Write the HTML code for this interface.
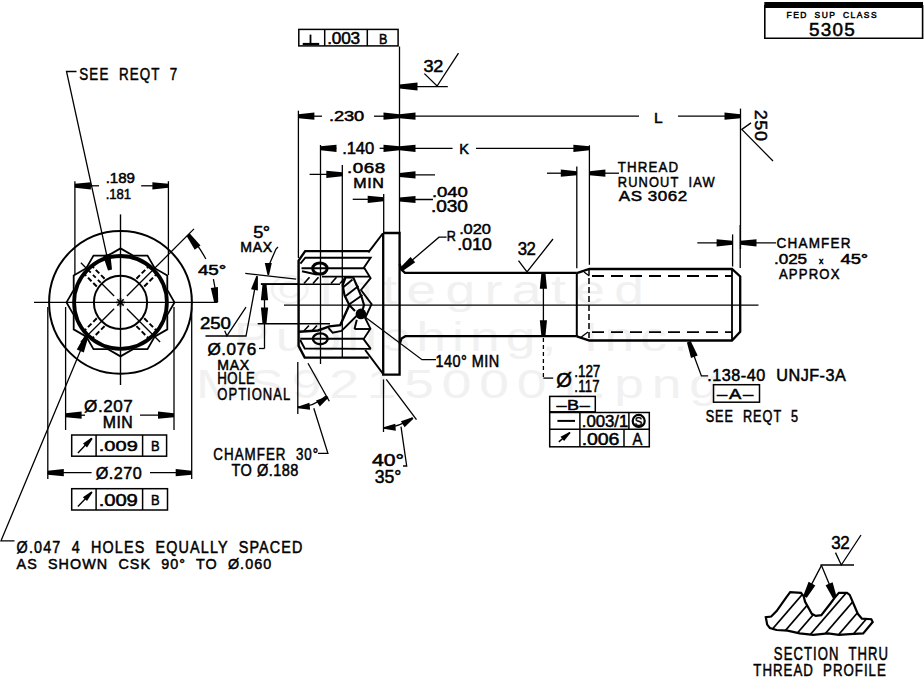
<!DOCTYPE html>
<html><head><meta charset="utf-8"><style>
html,body{margin:0;padding:0;background:#fff;width:924px;height:678px;overflow:hidden}
svg{display:block}
text{font-family:"Liberation Sans",sans-serif}
</style></head><body>
<svg width="924" height="678" viewBox="0 0 924 678">
<rect width="924" height="678" fill="#fff"/>
<g fill="#f1f1f1" stroke="none" font-family="Liberation Sans, sans-serif"><text transform="translate(270,303.8) scale(1.3,1)" x="0" y="0" font-size="41" textLength="287.7" lengthAdjust="spacing">©Integrated</text><text transform="translate(234,350.8) scale(1.3,1)" x="0" y="0" font-size="41" textLength="349.2" lengthAdjust="spacing">Publishing, Inc.</text><text transform="translate(196,398) scale(1.3,1)" x="0" y="0" font-size="41" textLength="402.3" lengthAdjust="spacing">MS92150001.png</text></g>
<g stroke="#000" stroke-width="0.5" fill="#000" font-family="Liberation Sans, sans-serif">
<text transform="translate(787.0,17.5) scale(0.900,1)" x="-0.5" y="0" font-size="9.4" word-spacing="3.3" textLength="100.0" lengthAdjust="spacing">FED SUP CLASS</text>
<text transform="translate(810.0,36.0) scale(1.000,1)" x="-0.9" y="0" font-size="18.9" textLength="45.6" lengthAdjust="spacing">5305</text>
<text transform="translate(106.5,182.5) scale(1.072,1)" x="-0.7" y="0" font-size="14.1" textLength="27.2" lengthAdjust="spacing">.189</text>
<text transform="translate(106.5,198.8) scale(0.868,1)" x="-0.8" y="0" font-size="15.1" textLength="29.1" lengthAdjust="spacing">.181</text>
<text transform="translate(80.0,79.9) scale(0.831,1)" x="-0.8" y="0" font-size="16.1" word-spacing="5.6" textLength="117.7" lengthAdjust="spacing">SEE REQT 7</text>
<text transform="translate(17.3,553.2) scale(0.876,1)" x="-0.8" y="0" font-size="16.4" word-spacing="5.7" textLength="326.3" lengthAdjust="spacing">Ø.047 4 HOLES EQUALLY SPACED</text>
<text transform="translate(17.3,568.8) scale(0.950,1)" x="-0.8" y="0" font-size="15.1" word-spacing="5.3" textLength="268.1" lengthAdjust="spacing">AS SHOWN CSK 90° TO Ø.060</text>
<text transform="translate(198.9,274.5) scale(1.300,1)" x="-0.7" y="0" font-size="14.5" textLength="21.7" lengthAdjust="spacing">45°</text>
<text transform="translate(85.0,411.8) scale(0.983,1)" x="-0.9" y="0" font-size="17.4" textLength="49.6" lengthAdjust="spacing">Ø.207</text>
<text transform="translate(103.5,427.7) scale(1.017,1)" x="-0.8" y="0" font-size="15.6" textLength="29.6" lengthAdjust="spacing">MIN</text>
<text transform="translate(99.8,450.9) scale(1.300,1)" x="-0.8" y="0" font-size="15.4" textLength="30.1" lengthAdjust="spacing">.009</text>
<text transform="translate(151.6,450.9) scale(0.900,1)" x="-0.7" y="0" font-size="14.4" textLength="9.8" lengthAdjust="spacing">B</text>
<text transform="translate(96.5,478.8) scale(0.987,1)" x="-0.8" y="0" font-size="16.4" textLength="46.7" lengthAdjust="spacing">Ø.270</text>
<text transform="translate(99.8,506.0) scale(1.236,1)" x="-0.8" y="0" font-size="16.4" textLength="31.6" lengthAdjust="spacing">.009</text>
<text transform="translate(151.6,505.3) scale(0.900,1)" x="-0.7" y="0" font-size="14.4" textLength="9.8" lengthAdjust="spacing">B</text>
<text transform="translate(436.3,366.7) scale(0.917,1)" x="-0.8" y="0" font-size="15.8" textLength="69.3" lengthAdjust="spacing">140° MIN</text>
<text transform="translate(447.5,241.0) scale(0.824,1)" x="-0.8" y="0" font-size="15.3" textLength="11.2" lengthAdjust="spacing">R</text>
<text transform="translate(460.0,234.4) scale(1.068,1)" x="-0.8" y="0" font-size="15.4" textLength="29.7" lengthAdjust="spacing">.020</text>
<text transform="translate(458.0,249.7) scale(1.077,1)" x="-0.8" y="0" font-size="16.7" textLength="32.2" lengthAdjust="spacing">.010</text>
<text transform="translate(518.5,255.4) scale(0.953,1)" x="-0.9" y="0" font-size="17.6" textLength="19.2" lengthAdjust="spacing">32</text>
<text transform="translate(557.4,386.5) scale(1.042,1)" x="-1.0" y="0" font-size="19.3" textLength="15.4" lengthAdjust="spacing">Ø</text>
<text transform="translate(575.0,377.4) scale(0.829,1)" x="-0.8" y="0" font-size="16.3" textLength="31.4" lengthAdjust="spacing">.127</text>
<text transform="translate(575.0,391.5) scale(0.799,1)" x="-0.8" y="0" font-size="16.4" textLength="31.6" lengthAdjust="spacing">.117</text>
<text transform="translate(557.4,410.4) scale(1.183,1)" x="-0.8" y="0" font-size="15.3" textLength="28.2" lengthAdjust="spacing">–B–</text>
<text transform="translate(582.7,427.2) scale(1.035,1)" x="-0.8" y="0" font-size="16.3" textLength="44.9" lengthAdjust="spacing">.003/1</text>
<text transform="translate(635.3,425.5) scale(0.866,1)" x="-0.7" y="0" font-size="13.1" textLength="8.9" lengthAdjust="spacing">S</text>
<text transform="translate(582.7,444.7) scale(1.198,1)" x="-0.8" y="0" font-size="16.3" textLength="31.4" lengthAdjust="spacing">.006</text>
<text transform="translate(633.1,444.7) scale(0.905,1)" x="-0.8" y="0" font-size="16.3" textLength="11.0" lengthAdjust="spacing">A</text>
<text transform="translate(708.2,380.8) scale(1.033,1)" x="-0.8" y="0" font-size="15.7" word-spacing="5.5" textLength="134.0" lengthAdjust="spacing">.138-40 UNJF-3A</text>
<text transform="translate(718.0,399.3) scale(1.300,1)" x="-0.7" y="0" font-size="14.2" textLength="27.8" lengthAdjust="spacing">–A–</text>
<text transform="translate(706.3,421.7) scale(0.814,1)" x="-0.8" y="0" font-size="15.6" word-spacing="5.4" textLength="113.4" lengthAdjust="spacing">SEE REQT 5</text>
<text transform="translate(328.0,44.4) scale(1.096,1)" x="-0.8" y="0" font-size="15.7" textLength="30.2" lengthAdjust="spacing">.003</text>
<text transform="translate(379.6,44.4) scale(0.886,1)" x="-0.7" y="0" font-size="14.2" textLength="9.7" lengthAdjust="spacing">B</text>
<text transform="translate(424.4,71.6) scale(1.069,1)" x="-0.8" y="0" font-size="16.9" textLength="18.4" lengthAdjust="spacing">32</text>
<text transform="translate(329.8,120.7) scale(1.261,1)" x="-0.7" y="0" font-size="14.5" textLength="28.0" lengthAdjust="spacing">.230</text>
<text transform="translate(654.8,122.9) scale(1.030,1)" x="-0.8" y="0" font-size="15.1" textLength="8.5" lengthAdjust="spacing">L</text>
<text transform="translate(755,110.5) rotate(90) scale(1.06,1)" x="-0.8" y="0" font-size="17" textLength="29.5" lengthAdjust="spacing">250</text>
<text transform="translate(343.0,153.8) scale(1.039,1)" x="-0.8" y="0" font-size="16.0" textLength="30.8" lengthAdjust="spacing">.140</text>
<text transform="translate(460.0,153.5) scale(1.002,1)" x="-0.7" y="0" font-size="14.5" textLength="9.9" lengthAdjust="spacing">K</text>
<text transform="translate(348.0,173.0) scale(1.300,1)" x="-0.7" y="0" font-size="14.5" textLength="29.3" lengthAdjust="spacing">.068</text>
<text transform="translate(354.0,187.6) scale(1.107,1)" x="-0.7" y="0" font-size="14.5" textLength="27.7" lengthAdjust="spacing">MIN</text>
<text transform="translate(433.0,197.0) scale(1.207,1)" x="-0.8" y="0" font-size="15.4" textLength="29.7" lengthAdjust="spacing">.040</text>
<text transform="translate(432.0,212.3) scale(1.207,1)" x="-0.8" y="0" font-size="15.8" textLength="30.5" lengthAdjust="spacing">.030</text>
<text transform="translate(618.4,172.2) scale(0.880,1)" x="-0.8" y="0" font-size="15.1" textLength="68.6" lengthAdjust="spacing">THREAD</text>
<text transform="translate(618.4,187.3) scale(0.852,1)" x="-0.8" y="0" font-size="15.1" word-spacing="5.3" textLength="113.7" lengthAdjust="spacing">RUNOUT IAW</text>
<text transform="translate(619.7,200.8) scale(1.126,1)" x="-0.8" y="0" font-size="15.1" textLength="60.7" lengthAdjust="spacing">AS 3062</text>
<text transform="translate(777.3,248.3) scale(0.878,1)" x="-0.8" y="0" font-size="15.4" textLength="84.2" lengthAdjust="spacing">CHAMFER</text>
<text transform="translate(775.0,264.2) scale(1.113,1)" x="-0.8" y="0" font-size="15.4" textLength="29.7" lengthAdjust="spacing">.025</text>
<text transform="translate(819.5,263.5) scale(1.000,1)" x="-0.4" y="0" font-size="8.7" textLength="7.0" lengthAdjust="spacing">x</text>
<text transform="translate(841.5,264.2) scale(1.201,1)" x="-0.8" y="0" font-size="15.4" textLength="23.0" lengthAdjust="spacing">45°</text>
<text transform="translate(779.6,278.6) scale(0.869,1)" x="-0.8" y="0" font-size="15.1" textLength="69.6" lengthAdjust="spacing">APPROX</text>
<text transform="translate(254.0,238.0) scale(1.093,1)" x="-0.8" y="0" font-size="16.7" textLength="15.6" lengthAdjust="spacing">5°</text>
<text transform="translate(241.0,252.3) scale(0.981,1)" x="-0.7" y="0" font-size="14.4" textLength="32.5" lengthAdjust="spacing">MAX</text>
<text transform="translate(201.0,328.6) scale(1.155,1)" x="-0.8" y="0" font-size="16.1" textLength="26.6" lengthAdjust="spacing">250</text>
<text transform="translate(208.3,354.9) scale(1.043,1)" x="-0.8" y="0" font-size="16.4" textLength="46.7" lengthAdjust="spacing">Ø.076</text>
<text transform="translate(218.0,370.3) scale(0.991,1)" x="-0.7" y="0" font-size="14.2" textLength="32.1" lengthAdjust="spacing">MAX</text>
<text transform="translate(218.0,384.4) scale(0.848,1)" x="-0.8" y="0" font-size="15.6" textLength="44.2" lengthAdjust="spacing">HOLE</text>
<text transform="translate(218.0,400.0) scale(0.786,1)" x="-0.8" y="0" font-size="16.6" textLength="92.6" lengthAdjust="spacing">OPTIONAL</text>
<text transform="translate(214.0,460.4) scale(0.806,1)" x="-0.8" y="0" font-size="16.6" word-spacing="5.8" textLength="130.0" lengthAdjust="spacing">CHAMFER 30°</text>
<text transform="translate(232.2,475.9) scale(0.887,1)" x="-0.8" y="0" font-size="16.4" textLength="75.5" lengthAdjust="spacing">TO Ø.188</text>
<text transform="translate(373.0,466.0) scale(1.300,1)" x="-0.8" y="0" font-size="16.3" textLength="24.7" lengthAdjust="spacing">40°</text>
<text transform="translate(375.7,483.0) scale(0.949,1)" x="-0.9" y="0" font-size="18.6" textLength="27.8" lengthAdjust="spacing">35°</text>
<text transform="translate(832.0,549.0) scale(0.918,1)" x="-0.9" y="0" font-size="18.5" textLength="20.2" lengthAdjust="spacing">32</text>
<text transform="translate(774.5,659.8) scale(0.741,1)" x="-0.9" y="0" font-size="17.7" word-spacing="6.2" textLength="154.2" lengthAdjust="spacing">SECTION THRU</text>
<text transform="translate(754.0,676.0) scale(0.786,1)" x="-0.8" y="0" font-size="16.9" word-spacing="5.9" textLength="168.5" lengthAdjust="spacing">THREAD PROFILE</text>
</g>
<g stroke="#000" fill="none" stroke-linecap="butt">
<rect x="764.3" y="2" width="158.7" height="6" fill="#000" stroke="none"/>
<polyline points="764.8,5.0 764.8,38.2 922.6,38.2 922.6,5.0" stroke-width="1.6" fill="none"/>
<circle cx="120.5" cy="302.4" r="71.4" stroke-width="2.0" fill="none"/>
<circle cx="120.5" cy="302.4" r="46.4" stroke-width="3.8" fill="none"/>
<circle cx="120.5" cy="302.4" r="26.6" stroke-width="2.0" fill="none"/>
<polygon points="120.5,248.4 133.0,255.6 147.5,255.6 154.7,268.2 167.3,275.4 167.3,289.9 174.5,302.4 167.3,314.9 167.3,329.4 154.7,336.6 147.5,349.2 133.0,349.2 120.5,356.4 108.0,349.2 93.5,349.2 86.3,336.6 73.7,329.4 73.7,314.9 66.5,302.4 73.7,289.9 73.7,275.4 86.3,268.2 93.5,255.6 108.0,255.6" stroke-width="1.8" fill="none"/>
<line x1="120.5" y1="214.4" x2="120.5" y2="385.0" stroke-width="1.4"/>
<line x1="34.0" y1="302.4" x2="217.5" y2="302.4" stroke-width="1.4"/>
<line x1="116.0" y1="302.4" x2="125.0" y2="302.4" stroke-width="1.6"/>
<line x1="117.3" y1="299.2" x2="123.7" y2="305.6" stroke-width="1.6"/>
<line x1="120.5" y1="297.9" x2="120.5" y2="306.9" stroke-width="1.6"/>
<line x1="123.7" y1="299.2" x2="117.3" y2="305.6" stroke-width="1.6"/>
<line x1="126.9" y1="296.0" x2="194.0" y2="228.9" stroke-width="1.3"/>
<line x1="136.4" y1="278.7" x2="149.1" y2="266.0" stroke-width="2.0" stroke-dasharray="5,2.5"/>
<line x1="144.2" y1="286.5" x2="156.9" y2="273.8" stroke-width="2.0" stroke-dasharray="5,2.5"/>
<line x1="114.1" y1="296.0" x2="102.1" y2="284.0" stroke-width="1.3"/>
<line x1="100.7" y1="282.6" x2="88.0" y2="269.9" stroke-width="1.8" stroke-dasharray="4,3"/>
<line x1="87.3" y1="269.2" x2="80.9" y2="262.8" stroke-width="1.3"/>
<line x1="96.8" y1="286.5" x2="84.1" y2="273.8" stroke-width="2.0" stroke-dasharray="5,2.5"/>
<line x1="104.6" y1="278.7" x2="91.9" y2="266.0" stroke-width="2.0" stroke-dasharray="5,2.5"/>
<line x1="114.1" y1="308.8" x2="80.9" y2="342.0" stroke-width="1.3"/>
<line x1="104.6" y1="326.1" x2="91.9" y2="338.8" stroke-width="2.0" stroke-dasharray="5,2.5"/>
<line x1="96.8" y1="318.3" x2="84.1" y2="331.0" stroke-width="2.0" stroke-dasharray="5,2.5"/>
<line x1="126.9" y1="308.8" x2="160.1" y2="342.0" stroke-width="1.3"/>
<line x1="144.2" y1="318.3" x2="156.9" y2="331.0" stroke-width="2.0" stroke-dasharray="5,2.5"/>
<line x1="136.4" y1="326.1" x2="149.1" y2="338.8" stroke-width="2.0" stroke-dasharray="5,2.5"/>
<line x1="74.9" y1="181.2" x2="74.9" y2="275.0" stroke-width="1.3"/>
<line x1="168.4" y1="181.2" x2="168.4" y2="275.0" stroke-width="1.3"/>
<line x1="74.9" y1="185.8" x2="99.0" y2="185.8" stroke-width="1.3"/>
<line x1="141.2" y1="185.8" x2="168.4" y2="185.8" stroke-width="1.3"/>
<polygon points="74.9,183.8 74.9,187.8 90.9,189.4 90.9,182.2" fill="#000" stroke="none"/>
<polygon points="168.4,187.8 168.4,183.8 152.4,182.2 152.4,189.4" fill="#000" stroke="none"/>
<polyline points="76.5,71.5 66.5,71.5 110.0,270.0" stroke-width="1.3" fill="none"/>
<polygon points="108.0,270.4 112.0,269.6 110.3,253.6 102.9,255.2" fill="#000" stroke="none"/>
<polyline points="86.5,336.2 1.0,540.8 14.5,540.8" stroke-width="1.3" fill="none"/>
<polygon points="88.3,337.0 84.7,335.4 76.8,349.5 83.8,352.4" fill="#000" stroke="none"/>
<path d="M188.2,234.7 A95.7,95.7 0 0 1 205.8,259.0" fill="none" stroke-width="1.3"/>
<polygon points="189.8,233.6 186.6,235.9 194.7,249.8 200.5,245.6" fill="#000" stroke="none"/>
<path d="M213.4,279.2 A95.7,95.7 0 0 1 216.2,302.4" fill="none" stroke-width="1.3"/>
<polygon points="214.2,302.6 218.2,302.2 217.9,287.1 210.8,288.0" fill="#000" stroke="none"/>
<line x1="65.6" y1="307.0" x2="65.6" y2="430.0" stroke-width="1.3"/>
<line x1="174.0" y1="307.0" x2="174.0" y2="430.0" stroke-width="1.3"/>
<line x1="65.6" y1="415.2" x2="85.0" y2="415.2" stroke-width="1.3"/>
<line x1="140.0" y1="415.2" x2="174.0" y2="415.2" stroke-width="1.3"/>
<polygon points="65.6,413.2 65.6,417.2 81.6,418.8 81.6,411.6" fill="#000" stroke="none"/>
<polygon points="174.0,417.2 174.0,413.2 158.0,411.6 158.0,418.8" fill="#000" stroke="none"/>
<rect x="71.7" y="435.0" width="94.9" height="21.2" fill="none" stroke-width="1.5"/>
<line x1="96.1" y1="435.0" x2="96.1" y2="456.2" stroke-width="1.5"/>
<line x1="142.6" y1="435.0" x2="142.6" y2="456.2" stroke-width="1.5"/>
<line x1="77.9" y1="452.9" x2="91.9" y2="438.3" stroke-width="1.4"/>
<polygon points="92.5,438.9 91.3,437.7 83.0,443.6 87.0,447.5" fill="#000" stroke="none"/>
<line x1="47.8" y1="307.0" x2="47.8" y2="479.0" stroke-width="1.3"/>
<line x1="191.7" y1="307.0" x2="191.7" y2="479.0" stroke-width="1.3"/>
<line x1="47.8" y1="472.7" x2="91.6" y2="472.7" stroke-width="1.3"/>
<line x1="150.0" y1="472.7" x2="191.7" y2="472.7" stroke-width="1.3"/>
<polygon points="47.8,470.7 47.8,474.7 63.8,476.3 63.8,469.1" fill="#000" stroke="none"/>
<polygon points="191.7,474.7 191.7,470.7 175.7,469.1 175.7,476.3" fill="#000" stroke="none"/>
<rect x="71.7" y="488.7" width="95.8" height="21.3" fill="none" stroke-width="1.5"/>
<line x1="96.1" y1="488.7" x2="96.1" y2="510.0" stroke-width="1.5"/>
<line x1="142.6" y1="488.7" x2="142.6" y2="510.0" stroke-width="1.5"/>
<line x1="77.9" y1="506.5" x2="91.9" y2="492.0" stroke-width="1.4"/>
<polygon points="92.5,492.6 91.3,491.4 82.9,497.2 87.0,501.1" fill="#000" stroke="none"/>
<polyline points="383.2,233.0 399.6,233.0 399.6,374.7 383.2,374.7 383.2,233.0" stroke-width="2.3" fill="none"/>
<line x1="382.8" y1="233.5" x2="368.4" y2="252.4" stroke-width="2.0"/>
<line x1="383.2" y1="374.0" x2="365.2" y2="350.0" stroke-width="2.0"/>
<polyline points="369.3,251.1 305.2,251.1 298.6,260.6 298.6,345.9 304.7,357.6 368.8,357.6" stroke-width="2.4" fill="none"/>
<polyline points="300.4,263.7 305.3,257.7 370.6,257.7 364.0,267.5 370.6,278.1 361.0,290.0 371.6,304.2 365.1,318.0 370.4,328.7 363.6,339.1 370.8,348.9" stroke-width="1.9" fill="none"/>
<line x1="301.5" y1="268.3" x2="364.0" y2="268.3" stroke-width="1.9"/>
<line x1="322.0" y1="276.6" x2="369.5" y2="276.6" stroke-width="1.9"/>
<polyline points="302.0,271.2 316.6,274.5" stroke-width="1.9" fill="none"/>
<line x1="261.0" y1="284.2" x2="340.0" y2="284.2" stroke-width="1.6"/>
<line x1="304.0" y1="283.5" x2="309.5" y2="277.2" stroke-width="1.7"/>
<line x1="313.0" y1="283.5" x2="318.5" y2="277.2" stroke-width="1.7"/>
<line x1="331.0" y1="283.5" x2="336.5" y2="277.2" stroke-width="1.7"/>
<line x1="340.0" y1="283.5" x2="345.5" y2="277.2" stroke-width="1.7"/>
<polyline points="300.2,340.0 304.7,348.5 370.8,348.9" stroke-width="1.9" fill="none"/>
<line x1="300.2" y1="338.8" x2="363.6" y2="338.8" stroke-width="1.9"/>
<line x1="257.7" y1="323.8" x2="330.0" y2="323.8" stroke-width="1.6"/>
<polyline points="299.0,331.8 318.0,330.5 329.4,326.4 340.3,325.1 344.5,315.7 349.8,304.0" stroke-width="2.4" fill="none"/>
<polyline points="328.5,328.0 332.7,332.8 341.5,331.0 358.0,314.5" stroke-width="1.9" fill="none"/>
<line x1="356.8" y1="319.8" x2="354.5" y2="329.0" stroke-width="1.9"/>
<line x1="354.5" y1="329.0" x2="369.8" y2="329.0" stroke-width="1.9"/>
<line x1="304.0" y1="330.8" x2="309.0" y2="325.5" stroke-width="1.6"/>
<line x1="312.0" y1="330.8" x2="317.0" y2="325.5" stroke-width="1.6"/>
<polyline points="353.2,277.4 345.6,277.4 342.7,285.1 344.6,295.6 349.4,305.2 355.0,311.0" stroke-width="2.2" fill="none"/>
<polyline points="353.2,277.4 357.0,286.0 361.8,297.5 364.0,305.0 362.0,312.0" stroke-width="2.2" fill="none"/>
<line x1="343.5" y1="287.0" x2="352.5" y2="279.5" stroke-width="1.9"/>
<line x1="345.0" y1="296.5" x2="358.5" y2="286.0" stroke-width="1.9"/>
<line x1="349.0" y1="304.5" x2="362.5" y2="295.0" stroke-width="1.9"/>
<circle cx="360.9" cy="313.9" r="5.3" fill="#000" stroke="none"/>
<ellipse cx="319.9" cy="268.5" rx="7.2" ry="5.6" stroke-width="3.0" fill="none"/>
<ellipse cx="320.3" cy="338.8" rx="7.4" ry="5.4" stroke-width="2.4" fill="none"/>
<polyline points="399.6,264.0 401.5,269.5 405.0,272.8 576.8,272.8" stroke-width="2.3" fill="none"/>
<polyline points="399.6,344.0 401.5,338.5 405.4,336.2 576.8,336.2" stroke-width="2.3" fill="none"/>
<line x1="576.8" y1="273.2" x2="576.8" y2="336.3" stroke-width="2.0"/>
<polyline points="576.8,273.2 589.4,269.0 732.0,269.0 740.2,276.4 740.2,331.7 732.0,340.5 589.4,340.5 576.8,336.3" stroke-width="2.3" fill="none"/>
<line x1="732.0" y1="269.0" x2="732.0" y2="340.5" stroke-width="1.8"/>
<line x1="592.0" y1="276.0" x2="732.0" y2="276.0" stroke-width="1.9" stroke-dasharray="12,7"/>
<line x1="592.0" y1="332.1" x2="732.0" y2="332.1" stroke-width="1.9" stroke-dasharray="12,7"/>
<line x1="589.0" y1="269.0" x2="589.0" y2="340.5" stroke-width="1.5" stroke-dasharray="6,3"/>
<line x1="584.0" y1="272.0" x2="589.4" y2="276.0" stroke-width="1.3"/>
<line x1="580.0" y1="338.0" x2="588.0" y2="332.0" stroke-width="1.3"/>
<line x1="284.0" y1="305.2" x2="758.5" y2="305.2" stroke-width="1.3"/>
<polyline points="360.4,313.4 422.0,359.7 436.0,359.7" stroke-width="1.3" fill="none"/>
<polyline points="446.6,237.2 439.0,237.2 400.7,270.0" stroke-width="1.3" fill="none"/>
<polygon points="399.4,268.5 402.0,271.5 415.2,262.3 410.5,256.9" fill="#000" stroke="none"/>
<polyline points="518.5,260.6 527.0,272.0 553.0,239.0" stroke-width="1.3" fill="none"/>
<line x1="543.4" y1="272.8" x2="543.4" y2="336.2" stroke-width="1.3"/>
<line x1="543.4" y1="338.0" x2="543.4" y2="378.1" stroke-width="1.3" stroke-dasharray="4,3"/>
<polygon points="545.4,272.8 541.4,272.8 539.8,288.8 547.0,288.8" fill="#000" stroke="none"/>
<polygon points="541.4,336.2 545.4,336.2 547.0,320.2 539.8,320.2" fill="#000" stroke="none"/>
<line x1="543.4" y1="378.1" x2="553.2" y2="378.1" stroke-width="1.3"/>
<rect x="549.7" y="396.4" width="45.6" height="15.4" fill="none" stroke-width="1.5"/>
<rect x="549.7" y="412.5" width="99.6" height="34.3" fill="none" stroke-width="1.5"/>
<line x1="579.9" y1="412.5" x2="579.9" y2="446.8" stroke-width="1.5"/>
<line x1="628.9" y1="412.5" x2="628.9" y2="429.3" stroke-width="1.5"/>
<line x1="624.0" y1="429.3" x2="624.0" y2="446.8" stroke-width="1.5"/>
<line x1="549.7" y1="429.3" x2="649.3" y2="429.3" stroke-width="1.5"/>
<line x1="557.4" y1="420.9" x2="575.0" y2="420.9" stroke-width="2.0"/>
<line x1="558.8" y1="441.9" x2="570.0" y2="432.5" stroke-width="1.4"/>
<polygon points="570.5,433.1 569.5,431.9 560.5,436.8 564.1,441.1" fill="#000" stroke="none"/>
<circle cx="638.7" cy="420.9" r="6.0" stroke-width="2.2" fill="none"/>
<polyline points="688.8,341.8 701.4,375.9 708.2,375.9" stroke-width="1.3" fill="none"/>
<polygon points="690.7,341.1 686.9,342.5 691.0,358.1 697.7,355.6" fill="#000" stroke="none"/>
<rect x="713.5" y="384.7" width="46.0" height="17.5" fill="none" stroke-width="1.5"/>
<rect x="298.8" y="29.4" width="99.3" height="16.5" fill="none" stroke-width="1.5"/>
<line x1="324.7" y1="29.4" x2="324.7" y2="45.9" stroke-width="1.5"/>
<line x1="367.3" y1="29.4" x2="367.3" y2="45.9" stroke-width="1.5"/>
<line x1="302.7" y1="44.0" x2="319.2" y2="44.0" stroke-width="2.2"/>
<line x1="310.5" y1="34.6" x2="310.5" y2="44.0" stroke-width="1.8"/>
<line x1="399.5" y1="46.5" x2="399.5" y2="233.0" stroke-width="1.3"/>
<line x1="399.5" y1="86.6" x2="447.8" y2="86.6" stroke-width="1.3"/>
<polygon points="399.5,84.6 399.5,88.6 417.5,90.6 417.5,82.6" fill="#000" stroke="none"/>
<polyline points="424.4,73.6 437.1,86.0 458.5,53.1" stroke-width="1.3" fill="none"/>
<line x1="298.4" y1="110.7" x2="298.4" y2="258.0" stroke-width="1.3"/>
<line x1="298.4" y1="116.2" x2="322.0" y2="116.2" stroke-width="1.3"/>
<polygon points="298.4,114.2 298.4,118.2 314.4,119.8 314.4,112.6" fill="#000" stroke="none"/>
<line x1="374.0" y1="116.2" x2="399.5" y2="116.2" stroke-width="1.3"/>
<polygon points="399.5,118.2 399.5,114.2 383.5,112.6 383.5,119.8" fill="#000" stroke="none"/>
<line x1="399.5" y1="116.2" x2="639.0" y2="116.2" stroke-width="1.3"/>
<polygon points="399.5,114.2 399.5,118.2 415.5,119.8 415.5,112.6" fill="#000" stroke="none"/>
<line x1="678.0" y1="116.2" x2="740.5" y2="116.2" stroke-width="1.3"/>
<polygon points="740.5,118.2 740.5,114.2 724.5,112.6 724.5,119.8" fill="#000" stroke="none"/>
<line x1="740.5" y1="108.6" x2="740.5" y2="249.0" stroke-width="1.3"/>
<polyline points="751.0,122.9 741.8,129.4 773.0,161.0" stroke-width="1.3" fill="none"/>
<line x1="320.5" y1="145.0" x2="320.5" y2="364.0" stroke-width="1.3"/>
<line x1="320.5" y1="148.3" x2="336.4" y2="148.3" stroke-width="1.3"/>
<polygon points="320.5,146.3 320.5,150.3 336.5,151.9 336.5,144.7" fill="#000" stroke="none"/>
<line x1="379.6" y1="148.3" x2="399.5" y2="148.3" stroke-width="1.3"/>
<polygon points="399.5,150.3 399.5,146.3 383.5,144.7 383.5,151.9" fill="#000" stroke="none"/>
<line x1="399.5" y1="148.3" x2="452.6" y2="148.3" stroke-width="1.3"/>
<polygon points="399.5,146.3 399.5,150.3 415.5,151.9 415.5,144.7" fill="#000" stroke="none"/>
<line x1="476.0" y1="148.3" x2="589.4" y2="148.3" stroke-width="1.3"/>
<polygon points="589.4,150.3 589.4,146.3 573.4,144.7 573.4,151.9" fill="#000" stroke="none"/>
<line x1="589.4" y1="145.3" x2="589.4" y2="264.8" stroke-width="1.3"/>
<line x1="342.3" y1="165.0" x2="342.3" y2="358.0" stroke-width="1.3"/>
<line x1="309.6" y1="174.3" x2="342.3" y2="174.3" stroke-width="1.3"/>
<polygon points="342.3,176.3 342.3,172.3 326.3,170.7 326.3,177.9" fill="#000" stroke="none"/>
<line x1="399.5" y1="174.9" x2="435.0" y2="174.9" stroke-width="1.3"/>
<polygon points="399.5,172.9 399.5,176.9 415.5,178.5 415.5,171.3" fill="#000" stroke="none"/>
<line x1="383.7" y1="194.0" x2="383.7" y2="233.0" stroke-width="1.3"/>
<line x1="352.7" y1="199.3" x2="383.7" y2="199.3" stroke-width="1.3"/>
<polygon points="383.7,201.3 383.7,197.3 367.7,195.7 367.7,202.9" fill="#000" stroke="none"/>
<line x1="399.5" y1="199.5" x2="433.0" y2="199.5" stroke-width="1.3"/>
<polygon points="399.5,197.5 399.5,201.5 415.5,203.1 415.5,195.9" fill="#000" stroke="none"/>
<line x1="576.8" y1="166.6" x2="576.8" y2="268.3" stroke-width="1.3"/>
<line x1="547.0" y1="173.2" x2="577.0" y2="173.2" stroke-width="1.3"/>
<polygon points="576.8,175.2 576.8,171.2 560.8,169.6 560.8,176.8" fill="#000" stroke="none"/>
<line x1="589.4" y1="173.2" x2="619.0" y2="173.2" stroke-width="1.3"/>
<polygon points="589.4,171.2 589.4,175.2 605.4,176.8 605.4,169.6" fill="#000" stroke="none"/>
<line x1="732.6" y1="234.4" x2="732.6" y2="266.5" stroke-width="1.3"/>
<line x1="740.2" y1="225.0" x2="740.2" y2="268.0" stroke-width="1.3"/>
<line x1="697.3" y1="242.8" x2="732.6" y2="242.8" stroke-width="1.3"/>
<polygon points="732.6,244.8 732.6,240.8 716.6,239.2 716.6,246.4" fill="#000" stroke="none"/>
<line x1="740.5" y1="242.8" x2="776.0" y2="242.8" stroke-width="1.3"/>
<polygon points="740.5,240.8 740.5,244.8 756.5,246.4 756.5,239.2" fill="#000" stroke="none"/>
<line x1="245.3" y1="273.3" x2="296.2" y2="279.2" stroke-width="1.3"/>
<line x1="260.8" y1="283.8" x2="298.0" y2="283.8" stroke-width="1.3"/>
<polyline points="278.0,247.0 276.0,249.0 268.3,266.7" stroke-width="1.3" fill="none"/>
<polygon points="267.5,275.0 269.1,275.0 271.8,263.0 264.8,263.0" fill="#000" stroke="none"/>
<polyline points="205.5,336.0 246.0,336.0 257.1,276.2" stroke-width="1.3" fill="none"/>
<polygon points="257.9,276.4 256.3,276.0 251.0,289.3 257.9,290.6" fill="#000" stroke="none"/>
<polyline points="224.7,330.8 226.9,335.8 246.0,307.2" stroke-width="1.3" fill="none"/>
<line x1="264.5" y1="284.3" x2="264.5" y2="348.5" stroke-width="1.3"/>
<polygon points="266.5,284.3 262.5,284.3 260.9,300.3 268.1,300.3" fill="#000" stroke="none"/>
<polygon points="262.5,323.4 266.5,323.4 268.1,307.4 260.9,307.4" fill="#000" stroke="none"/>
<line x1="259.0" y1="348.5" x2="264.5" y2="348.5" stroke-width="1.3"/>
<line x1="297.8" y1="362.0" x2="297.8" y2="414.0" stroke-width="1.3"/>
<line x1="308.0" y1="363.3" x2="329.3" y2="401.3" stroke-width="1.3"/>
<path d="M297.8,407 Q314,407 326,396" fill="none" stroke-width="1.3"/>
<polygon points="297.7,406.7 297.9,408.3 310.1,409.7 309.4,402.8" fill="#000" stroke="none"/>
<polygon points="328.4,397.7 327.6,396.3 316.0,400.5 319.8,406.4" fill="#000" stroke="none"/>
<polyline points="313.8,408.3 327.9,453.3 318.0,453.3" stroke-width="1.3" fill="none"/>
<line x1="383.5" y1="379.4" x2="383.5" y2="432.0" stroke-width="1.3"/>
<line x1="386.3" y1="379.4" x2="416.5" y2="419.6" stroke-width="1.3"/>
<path d="M383.6,428 Q400,427 412,418" fill="none" stroke-width="1.3"/>
<polygon points="383.5,427.2 383.7,428.8 395.8,430.7 395.3,423.7" fill="#000" stroke="none"/>
<polygon points="413.4,418.7 412.6,417.3 400.9,421.3 404.6,427.3" fill="#000" stroke="none"/>
<polyline points="401.0,426.6 406.7,466.0 403.0,466.0" stroke-width="1.3" fill="none"/>
<polyline points="835.5,552.6 841.3,565.0 861.0,535.0" stroke-width="1.3" fill="none"/>
<line x1="820.4" y1="565.0" x2="854.0" y2="565.0" stroke-width="1.3"/>
<line x1="821.5" y1="565.4" x2="805.0" y2="596.9" stroke-width="1.3"/>
<polygon points="803.2,596.0 806.8,597.8 815.3,585.4 808.6,581.8" fill="#000" stroke="none"/>
<line x1="821.5" y1="565.4" x2="834.8" y2="597.6" stroke-width="1.3"/>
<polygon points="833.0,598.4 836.6,596.8 832.6,582.3 825.6,585.2" fill="#000" stroke="none"/>
<polygon points="765.8,617.2 767.2,624.6 769.9,628.0 776.6,630.0 787.5,630.7 799.6,633.4 813.2,634.8 828.0,633.4 838.9,634.8 849.7,634.1 863.2,633.4 872.7,622.0 871.3,619.2 861.9,618.6 857.8,613.8 849.7,594.9 847.0,592.9 838.9,592.9 834.8,597.6 830.8,603.0 821.3,615.2 815.9,615.9 811.8,613.8 805.0,601.6 803.7,596.2 801.0,592.9 790.2,592.2 786.1,597.6 776.6,611.1 771.2,616.5" stroke-width="2.2" fill="none"/>
<clipPath id="pc"><polygon points="765.8,617.2 767.2,624.6 769.9,628 776.6,630 787.5,630.7 799.6,633.4 813.2,634.8 828,633.4 838.9,634.8 849.7,634.1 863.2,633.4 872.7,622 871.3,619.2 861.9,618.6 857.8,613.8 849.7,594.9 847,592.9 838.9,592.9 834.8,597.6 830.8,603 821.3,615.2 815.9,615.9 811.8,613.8 805,601.6 803.7,596.2 801,592.9 790.2,592.2 786.1,597.6 776.6,611.1 771.2,616.5"/></clipPath>
<g clip-path="url(#pc)"><line x1="763.0" y1="640" x2="807.0" y2="589" stroke-width="1.7"/><line x1="777.2" y1="640" x2="821.2" y2="589" stroke-width="1.7"/><line x1="791.4" y1="640" x2="835.4" y2="589" stroke-width="1.7"/><line x1="805.6" y1="640" x2="849.6" y2="589" stroke-width="1.7"/><line x1="819.8" y1="640" x2="863.8" y2="589" stroke-width="1.7"/><line x1="834.0" y1="640" x2="878.0" y2="589" stroke-width="1.7"/><line x1="848.2" y1="640" x2="892.2" y2="589" stroke-width="1.7"/><line x1="862.4" y1="640" x2="906.4" y2="589" stroke-width="1.7"/><line x1="876.6" y1="640" x2="920.6" y2="589" stroke-width="1.7"/></g>
</g>
</svg>
</body></html>
